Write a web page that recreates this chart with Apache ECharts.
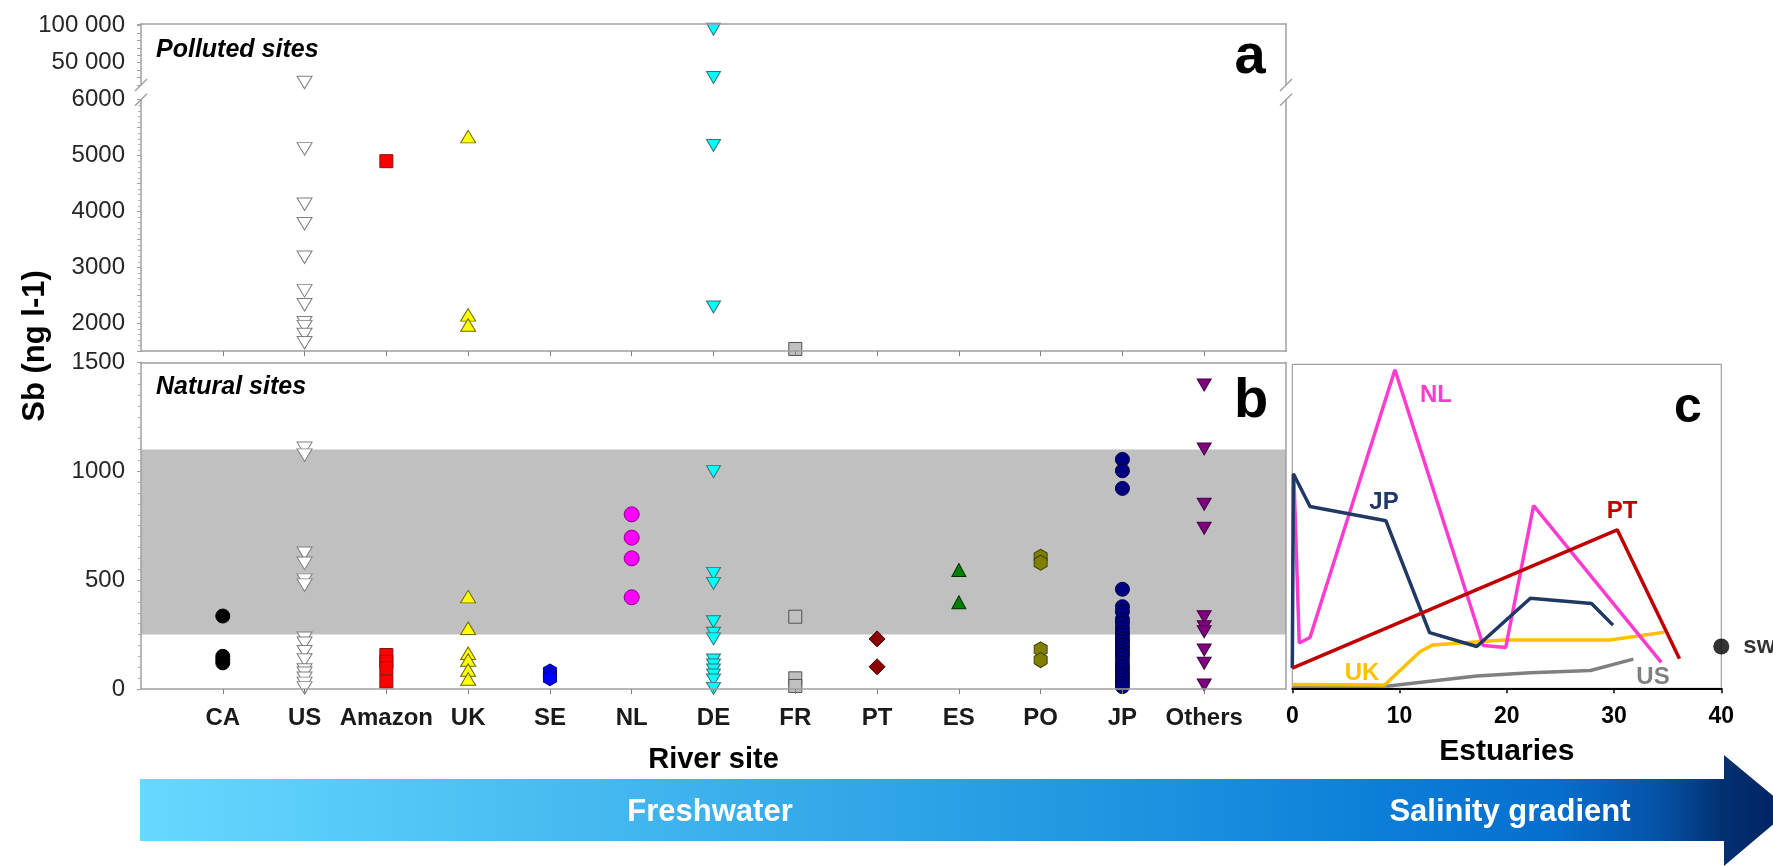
<!DOCTYPE html>
<html><head><meta charset="utf-8">
<script src="https://cdn.jsdelivr.net/npm/echarts@6/dist/echarts.min.js"></script>
<style>html,body{margin:0;padding:0;background:#fff}#c{width:1773px;height:866px}</style>
</head><body><div id="c"></div>
<script>
// ---------- DATA ----------
const categories = ['CA','US','Amazon','UK','SE','NL','DE','FR','PT','ES','PO','JP','Others'];
// Panel a: polluted sites (Sb, ng l-1)
const pollutedUS = [23400, 5120, 4130, 3780, 3180, 2580, 2330, 2010, 1940, 1800, 1650];
const pollutedAmazon = [4900];
const pollutedUK = [5340, 2150, 1970];
const pollutedDE = [95000, 30000, 5180, 2290];
const pollutedFR = [1540];
// Panel b: natural sites (Sb, ng l-1)
const naturalCA = [335, 150, 135, 120];
const naturalUS = [1105, 1074, 623, 577, 500, 477, 233, 210, 171, 133, 87, 72, 49, 26, 5];
const naturalAmazon = [156, 125, 95, 34];
const naturalUK = [424, 279, 164, 133, 87, 46];
const naturalSE = [80, 65, 50];
const naturalNL = [802, 695, 600, 421];
const naturalDE = [998, 531, 485, 309, 256, 230, 133, 110, 87, 64, 41, 3];
const naturalFR = [332, 49, 14];
const naturalPT = [230, 102];
const naturalES = [546, 398];
const naturalPO = [607, 580, 182, 133];
const naturalJP = [1054, 1002, 921, 458, 378, 355, 320, 302, 279, 260, 248, 230, 217, 200, 187, 170, 156, 140, 118, 100, 87, 70, 57, 40, 26, 11];
const naturalOthers = [1396, 1102, 848, 738, 332, 286, 263, 179, 118, 18];
const naturalRange = [250, 1100];
// Panel c: estuaries [salinity, relative Sb]
const estNL = [[0.15,65.3],[0.65,14.0],[1.65,15.7],[9.57,98.3],[17.8,13.2],[19.9,12.6],[22.5,56.4],[34.4,8.0]];
const estJP = [[0,6.2],[0.1,66.2],[1.65,56.1],[8.73,51.7],[12.8,17.2],[17.2,12.9],[22.2,27.8],[27.9,26.2],[29.9,19.5]];
const estPT = [[0,6.2],[30.3,48.9],[36.1,9.1]];
const estUK = [[0,1.2],[8.6,1.0],[11.9,11.3],[13.1,13.4],[19.7,14.9],[29.6,14.9],[34.7,17.3]];
const estUS = [[0,0.3],[9,0.7],[11.6,1.7],[17.2,3.8],[22.2,4.8],[27.8,5.5],[31.8,9.0]];
const seawater = [[40, 12.9]];
const breakValue = 6000;

// ---------- STYLES ----------
const FONT = 'Liberation Sans, Arial, sans-serif';
const hexV = 'path://M8.66,0 L17.32,5 L17.32,15 L8.66,20 L0,15 L0,5 Z';
const markerStyles = [
  {symbol:'circle', size:14, color:'#000000', border:'#000000'},
  {symbol:'triangle', size:[15,12.5], rotate:180, color:'#ffffff', border:'#7f7f7f'},
  {symbol:'rect', size:13, color:'#ff0000', border:'#8a1010'},
  {symbol:'triangle', size:[15,12.5], color:'#ffff00', border:'#6b6b00'},
  {symbol:hexV, size:[13,15], color:'#0000ff', border:'#00007f'},
  {symbol:'circle', size:15, color:'#ff00ff', border:'#8b008b'},
  {symbol:'triangle', size:[14,12], rotate:180, color:'#00ffff', border:'#3f6f6f'},
  {symbol:'rect', size:13, color:'#c0c0c0', border:'#505050'},
  {symbol:'diamond', size:[16,16], color:'#8b0000', border:'#400000'},
  {symbol:'triangle', size:[14,13], color:'#008000', border:'#003000'},
  {symbol:hexV, size:[13,15], color:'#808000', border:'#404000'},
  {symbol:'circle', size:14, color:'#000080', border:'#000040'},
  {symbol:'triangle', size:[14,12], rotate:180, color:'#800080', border:'#400040'}
];
const naturalByCat = [naturalCA, naturalUS, naturalAmazon, naturalUK, naturalSE, naturalNL, naturalDE, naturalFR, naturalPT, naturalES, naturalPO, naturalJP, naturalOthers];
const pollutedByCat = [[1,pollutedUS],[2,pollutedAmazon],[3,pollutedUK],[6,pollutedDE],[7,pollutedFR]];
const estLines = [['US',estUS,'#808080'],['UK',estUK,'#ffc000'],['NL',estNL,'#ff3ccf'],['JP',estJP,'#203864'],['PT',estPT,'#c00000']];

// ---------- LAYOUT ----------
const PL = 141, PW = 1145;
const gA1 = {left:PL, top:24, width:PW, height:61};
const gA2 = {left:PL, top:99.7, width:PW, height:251.5};
const gB = {left:PL, top:362.3, width:PW, height:326.7};
const gC = {left:1292.3, top:364.3, width:429, height:324};
const BORDER = '#a0a0a0';
const catTicks = categories.map((c,i)=>i+1);
const fmtSpace = v => String(v).replace(/\B(?=(\d{3})+(?!\d))/g, ' ');

function scatterSeries(ci, values, xi, yi, z) {
  const s = markerStyles[ci];
  return {
    type:'scatter', name:categories[ci], xAxisIndex:xi, yAxisIndex:yi, z:z||3,
    symbol:s.symbol, symbolSize:s.size, symbolRotate:s.rotate||0, clip:false,
    itemStyle:{color:s.color, borderColor:s.border, borderWidth:1, opacity:1},
    data: values.map(v => [ci+1, v])
  };
}

const series = [];
series.push({type:'scatter', xAxisIndex:2, yAxisIndex:4, data:[], z:1,
  markArea:{silent:true, itemStyle:{color:'#c0c0c0'}, data:[[{yAxis:naturalRange[0]},{yAxis:naturalRange[1]}]]}});
naturalByCat.forEach((vals, ci) => series.push(scatterSeries(ci, vals, 2, 4)));
pollutedByCat.forEach(([ci, vals]) => {
  const hi = vals.filter(v => v > breakValue), lo = vals.filter(v => v <= breakValue);
  if (hi.length) series.push(scatterSeries(ci, hi, 0, 0));
  if (lo.length) series.push(scatterSeries(ci, lo, 1, 2));
});
estLines.forEach(([n, d, col]) => series.push({type:'line', name:n, xAxisIndex:4, yAxisIndex:6, data:d,
  showSymbol:false, symbol:'none', lineStyle:{color:col, width:3.5}, z:3}));
series.push({type:'scatter', xAxisIndex:4, yAxisIndex:6, data:seawater, symbolSize:16, clip:false,
  itemStyle:{color:'#000'}, z:5,
  label:{show:true, position:'right', distance:14, formatter:'sw', fontFamily:FONT, fontWeight:'bold', fontSize:24, color:'#000'}});

const lineOnly = (extra) => Object.assign({show:true, axisLine:{show:true, onZero:false, lineStyle:{color:BORDER, width:1.5}},
  axisTick:{show:false}, axisLabel:{show:false}, splitLine:{show:false}}, extra);

const xBase = {type:'value', min:0, max:14, interval:1};
const yLabel = {fontFamily:FONT, fontSize:24, color:'#262626', margin:16};

const option = {
  animation:false,
  backgroundColor:'#ffffff',
  grid:[
    Object.assign({}, gA1),
    Object.assign({}, gA2),
    Object.assign({}, gB),
    Object.assign({show:true, borderColor:BORDER, borderWidth:1.2, backgroundColor:'transparent'}, gC)
  ],
  xAxis:[
    lineOnly(Object.assign({gridIndex:0, position:'top', z:6}, xBase)),
    Object.assign({gridIndex:1, position:'bottom', z:6,
      axisLine:{show:true, onZero:false, lineStyle:{color:BORDER, width:1.5}},
      axisTick:{show:true, customValues:catTicks, length:5, lineStyle:{color:'#808080'}},
      axisLabel:{show:false}, splitLine:{show:false}}, xBase),
    Object.assign({gridIndex:2, position:'bottom', z:6,
      name:'River site', nameLocation:'middle', nameGap:56,
      nameTextStyle:{fontFamily:FONT, fontWeight:'bold', fontSize:29, color:'#000'},
      axisLine:{show:true, onZero:false, lineStyle:{color:BORDER, width:1.5}},
      axisTick:{show:true, customValues:catTicks, length:5, lineStyle:{color:'#808080'}},
      axisLabel:{show:true, customValues:catTicks, formatter:v => categories[Math.round(v)-1] || '',
        fontFamily:FONT, fontWeight:'bold', fontSize:24, color:'#1a1a1a', margin:17},
      splitLine:{show:false}}, xBase),
    lineOnly(Object.assign({gridIndex:2, position:'top', z:6}, xBase)),
    {type:'value', gridIndex:3, min:0, max:40, interval:10, position:'bottom', z:6,
      name:'Estuaries', nameLocation:'middle', nameGap:48,
      nameTextStyle:{fontFamily:FONT, fontWeight:'bold', fontSize:30, color:'#000'},
      axisLine:{show:true, onZero:false, lineStyle:{color:'#000', width:2}},
      axisTick:{show:true, length:5, lineStyle:{color:'#000', width:1.5}},
      axisLabel:{fontFamily:FONT, fontWeight:'bold', fontSize:23, color:'#000', margin:17},
      splitLine:{show:false}}
  ],
  yAxis:[
    {type:'value', gridIndex:0, min:20000, max:102000, interval:10000, z:6,
      axisLine:{show:true, onZero:false, lineStyle:{color:BORDER, width:1.5}},
      axisTick:{show:true, length:4, lineStyle:{color:'#a0a0a0'}},
      axisLabel:Object.assign({formatter:v => (v===50000||v===100000) ? fmtSpace(v) : ''}, yLabel),
      splitLine:{show:false}},
    lineOnly({type:'value', gridIndex:0, position:'right', min:0, max:1, z:6}),
    {type:'value', gridIndex:1, min:1500, max:breakValue, interval:500, z:6,
      axisLine:{show:true, onZero:false, lineStyle:{color:BORDER, width:1.5}},
      axisTick:{show:true, length:4, lineStyle:{color:'#a0a0a0'}},
      minorTick:{show:true, splitNumber:5, length:3, lineStyle:{color:'#b0b0b0'}},
      axisLabel:Object.assign({formatter:v => (v % 1000 === 0) ? String(v) : ''}, yLabel),
      splitLine:{show:false}},
    lineOnly({type:'value', gridIndex:1, position:'right', min:0, max:1, z:6}),
    {type:'value', gridIndex:2, min:0, max:1500, interval:500, z:6,
      axisLine:{show:true, onZero:false, lineStyle:{color:BORDER, width:1.5}},
      axisTick:{show:true, length:4, lineStyle:{color:'#a0a0a0'}},
      minorTick:{show:true, splitNumber:10, length:3, lineStyle:{color:'#b0b0b0'}},
      axisLabel:Object.assign({formatter:v => String(v)}, yLabel),
      splitLine:{show:false}},
    lineOnly({type:'value', gridIndex:2, position:'right', min:0, max:1, z:6}),
    {type:'value', gridIndex:3, min:0, max:100, show:true,
      axisLine:{show:false}, axisTick:{show:false}, axisLabel:{show:false}, splitLine:{show:false}}
  ],
  graphic:[]
};

// ---------- ANNOTATIONS ----------
const g = option.graphic;
function txt(x, y, text, font, fill, extra) {
  g.push(Object.assign({type:'text', x:x, y:y, z:100, silent:true,
    style:{text:text, font:font, fill:fill, align:'center', verticalAlign:'middle', textAlign:'center', textVerticalAlign:'middle'}}, extra||{}));
}
function slash(x, y) {
  g.push({type:'line', z:100, shape:{x1:x-6, y1:y+6, x2:x+6, y2:y-6}, style:{stroke:BORDER, lineWidth:1.5}});
}
const yBreakTop = gA1.top + gA1.height, yBreakBot = gA2.top;
[PL, PL+PW].forEach(x => { slash(x, yBreakTop); slash(x, yBreakBot); });

// arrow
g.push({type:'polygon', z:0, silent:true,
  shape:{points:[[140,779],[1724,779],[1724,755],[1790,810],[1724,866],[1724,841],[140,841]]},
  style:{fill:{type:'linear', x:0, y:0, x2:1, y2:0, colorStops:[
    {offset:0, color:'#66d9ff'}, {offset:0.35, color:'#3cb0ec'}, {offset:0.62, color:'#1c92e0'},
    {offset:0.78, color:'#0a7ad6'}, {offset:0.86, color:'#066ecd'}, {offset:0.92, color:'#0552a8'},
    {offset:0.96, color:'#023070'}, {offset:1, color:'#002060'}]}}});
txt(710, 812, 'Freshwater', 'bold 31px ' + FONT, '#ffffff');
txt(1510, 812, 'Salinity gradient', 'bold 31px ' + FONT, '#ffffff');

txt(35, 346, 'Sb (ng l-1)', 'bold 31px ' + FONT, '#000000', {rotation:Math.PI/2});
g.push({type:'text', x:156, y:50, z:100, style:{text:'Polluted sites', font:'italic bold 25px ' + FONT, fill:'#000', align:'left', verticalAlign:'middle', textAlign:'left', textVerticalAlign:'middle'}});
g.push({type:'text', x:156, y:387, z:100, style:{text:'Natural sites', font:'italic bold 25px ' + FONT, fill:'#000', align:'left', verticalAlign:'middle', textAlign:'left', textVerticalAlign:'middle'}});
txt(1250, 58, 'a', 'bold 56px ' + FONT, '#000');
txt(1251, 402, 'b', 'bold 56px ' + FONT, '#000');
txt(1688, 408, 'c', 'bold 50px ' + FONT, '#000');
txt(1436, 395, 'NL', 'bold 24px ' + FONT, '#ff3ccf');
txt(1384, 502, 'JP', 'bold 24px ' + FONT, '#203864');
txt(1622, 511, 'PT', 'bold 24px ' + FONT, '#c00000');
txt(1362, 673, 'UK', 'bold 24px ' + FONT, '#ffc000');
txt(1653, 677, 'US', 'bold 24px ' + FONT, '#808080');

option.series = series;
const chart = echarts.init(document.getElementById('c'), null, {renderer:'canvas'});
chart.setOption(option);
</script>
</body></html>
